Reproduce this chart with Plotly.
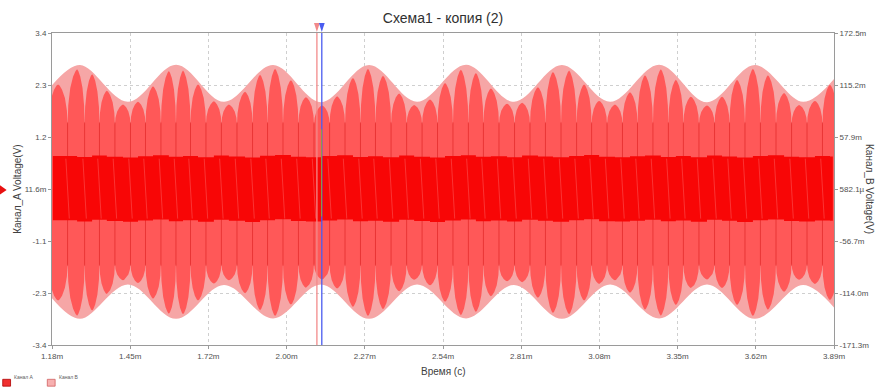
import plotly.graph_objects as go

# ---------------- data ----------------
# Time in milliseconds; Канал A in volts (left axis), Канал B in volts (right axis)

# Канал A envelope: extremes of the AM envelope
env_t = [1.180, 1.277, 1.443, 1.610, 1.776, 1.946, 2.112, 2.279, 2.445,
         2.615, 2.781, 2.947, 3.114, 3.284, 3.450, 3.616, 3.783, 3.890]
env_top = [2.26, 2.70, 1.90, 2.71, 1.90, 2.70, 1.89, 2.70, 1.90,
           2.71, 1.90, 2.70, 1.90, 2.71, 1.89, 2.70, 1.90, 2.40]
env_bot = [-2.38, -2.83, -2.08, -2.83, -2.09, -2.82, -2.08, -2.83, -2.08,
           -2.82, -2.09, -2.83, -2.08, -2.82, -2.08, -2.83, -2.09, -2.58]

# Канал A carrier lobes: lobe centres and their positive / negative peaks
lobe_t = [1.201, 1.267, 1.319, 1.370, 1.426, 1.478, 1.530, 1.585, 1.634, 1.686,
          1.741, 1.793, 1.849, 1.901, 1.953, 2.008, 2.060, 2.116, 2.168, 2.223,
          2.275, 2.327, 2.383, 2.435, 2.490, 2.542, 2.597, 2.649, 2.701, 2.757,
          2.809, 2.864, 2.916, 2.972, 3.024, 3.076, 3.131, 3.183, 3.235, 3.290,
          3.342, 3.394, 3.450, 3.502, 3.554, 3.609, 3.661, 3.717, 3.769, 3.824,
          3.876]
lobe_top = [2.28, 2.61, 2.50, 2.14, 1.84, 1.90, 2.24, 2.57, 2.58, 2.28,
            1.91, 1.84, 2.12, 2.49, 2.62, 2.37, 2.00, 1.82, 2.02, 2.42,
            2.62, 2.47, 2.08, 1.83, 1.95, 2.31, 2.60, 2.53, 2.19, 1.86,
            1.88, 2.22, 2.55, 2.58, 2.28, 1.92, 1.84, 2.11, 2.48, 2.61,
            2.38, 2.01, 1.82, 2.01, 2.38, 2.62, 2.48, 2.09, 1.83, 1.92,
            2.27]
lobe_bot = [-2.43, -2.76, -2.65, -2.29, -1.99, -2.05, -2.39, -2.72, -2.73, -2.43,
            -2.06, -1.99, -2.27, -2.64, -2.77, -2.52, -2.15, -1.97, -2.17, -2.57,
            -2.77, -2.62, -2.23, -1.98, -2.10, -2.46, -2.75, -2.68, -2.34, -2.01,
            -2.03, -2.37, -2.70, -2.73, -2.43, -2.07, -1.99, -2.26, -2.63, -2.76,
            -2.53, -2.16, -1.97, -2.16, -2.53, -2.77, -2.63, -2.24, -1.98, -2.07,
            -2.42]

# Канал B: upper / lower excursion per carrier lobe
chb_hi = [0.0371, 0.0358, 0.0376, 0.0362, 0.0354, 0.0367, 0.0379, 0.0360, 0.0370, 0.0356,
          0.0374, 0.0364, 0.0353, 0.0372, 0.0380, 0.0362, 0.0357, 0.0369, 0.0377, 0.0359,
          0.0366, 0.0355, 0.0375, 0.0362, 0.0352, 0.0369, 0.0378, 0.0360, 0.0367, 0.0357,
          0.0374, 0.0364, 0.0355, 0.0371, 0.0380, 0.0361, 0.0357, 0.0366, 0.0376, 0.0359,
          0.0369, 0.0355, 0.0374, 0.0364, 0.0353, 0.0371, 0.0378, 0.0362, 0.0357, 0.0369,
          0.0365]
chb_lo = [-0.0338, -0.0352, -0.0332, -0.0347, -0.0356, -0.0340, -0.0329, -0.0349, -0.0339, -0.0354,
          -0.0334, -0.0345, -0.0357, -0.0337, -0.0328, -0.0347, -0.0352, -0.0340, -0.0331, -0.0350,
          -0.0343, -0.0354, -0.0333, -0.0347, -0.0357, -0.0340, -0.0330, -0.0349, -0.0342, -0.0352,
          -0.0334, -0.0345, -0.0354, -0.0338, -0.0328, -0.0348, -0.0352, -0.0343, -0.0332, -0.0350,
          -0.0340, -0.0354, -0.0334, -0.0345, -0.0357, -0.0338, -0.0330, -0.0347, -0.0352, -0.0340,
          -0.0344]

# Axis tick labels
x_labels = ["1.18m", "1.45m", "1.72m", "2.00m", "2.27m", "2.54m",
            "2.81m", "3.08m", "3.35m", "3.62m", "3.89m"]
yl_labels = ["3.4", "2.3", "1.2", "11.6m", "-1.1", "-2.3", "-3.4"]
yr_labels = ["172.5m", "115.2m", "57.9m", "582.1µ", "-56.7m", "-114.0m", "-171.3m"]

# Cursor positions (ms)
cursor_t = [2.098, 2.115]

# ---------------- style ----------------
X_RANGE = [1.18, 3.89]
YL_RANGE = [-3.4, 3.4]
YR_RANGE = [-0.1713, 0.1725]
NECK_HI = 1.40      # depth of the light gaps between lobes (upper half)
NECK_LO = -1.62     # depth of the light gaps between lobes (lower half)
PINK = "#F6A6A6"
RED = "#FF5858"
DARK = "#F80606"
FONT = "Liberation Sans, Arial, sans-serif"
TXT = "#505050"

# lobe profile: (fraction of half-spacing from centre, fraction of height above neck)
PROFILE = [(0.93, 0.35), (0.72, 0.66), (0.42, 0.87), (0.16, 0.97), (0.0, 1.0)]


def even_ticks(rng, n):
    return [rng[1] - i * (rng[1] - rng[0]) / (n - 1) for i in range(n)]


def lobe_outline(ts, peaks, neck):
    """Boundary of the carrier lobes: tapered spikes joined at the neck level."""
    xs, ys = [], []
    n = len(ts)
    for i, (t, h) in enumerate(zip(ts, peaks)):
        left = (ts[i - 1] + t) / 2 if i > 0 else t - (ts[1] - ts[0]) / 2
        right = (t + ts[i + 1]) / 2 if i < n - 1 else t + (ts[-1] - ts[-2]) / 2
        if i == 0:
            xs.append(left); ys.append(neck)
        for dx, fy in PROFILE:
            xs.append(t - dx * (t - left)); ys.append(neck + fy * (h - neck))
        for dx, fy in PROFILE[-2::-1]:
            xs.append(t + dx * (right - t)); ys.append(neck + fy * (h - neck))
        xs.append(right); ys.append(neck)
    return xs, ys


fig = go.Figure()

# Канал A envelope (light)
fig.add_trace(go.Scatter(x=env_t, y=env_bot, mode="lines", line=dict(width=0, shape="spline"),
                         hoverinfo="skip", showlegend=False))
fig.add_trace(go.Scatter(x=env_t, y=env_top, mode="lines", line=dict(width=0, shape="spline"),
                         fill="tonexty", fillcolor=PINK, name="Канал А", showlegend=False))

# Канал A carrier lobes
ux, uy = lobe_outline(lobe_t, lobe_top, NECK_HI)
lx, ly = lobe_outline(lobe_t, lobe_bot, NECK_LO)
fig.add_trace(go.Scatter(x=ux + lx[::-1], y=uy + ly[::-1], mode="lines", line=dict(width=0),
                         fill="toself", fillcolor=RED, hoverinfo="skip", showlegend=False))

# thin trace strokes between lobes
gx, gy = [], []
for a, b in zip(lobe_t[:-1], lobe_t[1:]):
    m = (a + b) / 2
    gx += [m, m, None]
    gy += [NECK_HI + 0.05, NECK_LO - 0.05, None]
fig.add_trace(go.Scatter(x=gx, y=gy, mode="lines", line=dict(color="rgba(200,0,0,0.5)", width=0.8),
                         hoverinfo="skip", showlegend=False))

# Канал B band (right axis)
bx = [X_RANGE[0] + 0.003] + lobe_t + [X_RANGE[1] - 0.004]
fig.add_trace(go.Scatter(x=bx, y=[chb_lo[0]] + chb_lo + [chb_lo[-1]], yaxis="y2", mode="lines",
                         line=dict(width=0, shape="hv"), hoverinfo="skip", showlegend=False))
fig.add_trace(go.Scatter(x=bx, y=[chb_hi[0]] + chb_hi + [chb_hi[-1]], yaxis="y2", mode="lines",
                         line=dict(width=0, shape="hv"), fill="tonexty", fillcolor=DARK,
                         name="Канал В", showlegend=False))

# lighter streaks crossing the band
sx, sy = [], []
for a, b in zip(lobe_t[:-1], lobe_t[1:]):
    m = (a + b) / 2
    sx += [m - 0.006, m + 0.006, None]
    sy += [0.034, -0.032, None]
fig.add_trace(go.Scatter(x=sx, y=sy, yaxis="y2", mode="lines",
                         line=dict(color="rgba(255,120,120,0.5)", width=0.8),
                         hoverinfo="skip", showlegend=False))

# ---------------- cursors ----------------
shapes = []
for t, col in zip(cursor_t, ["#F28A8A", "#4A5CF0"]):
    shapes.append(dict(type="line", xref="x", yref="paper", x0=t, x1=t, y0=0, y1=1.0,
                       line=dict(color=col, width=1.3), layer="above"))
    w = 0.010
    shapes.append(dict(type="path", xref="x", yref="paper",
                       path=f"M {t - w},1.032 L {t + w},1.032 L {t},1.003 Z",
                       fillcolor=col, line=dict(width=0), layer="above"))
# faint marker trace near the second cursor
shapes.append(dict(type="line", xref="x", yref="y", x0=cursor_t[1] - 0.001, x1=cursor_t[1] - 0.001,
                   y0=1.3, y1=-0.6, line=dict(color="rgba(150,170,40,0.8)", width=1), layer="above"))
# channel A ground marker on the left edge
shapes.append(dict(type="path", xref="paper", yref="paper",
                   path="M -0.0665,0.512 L -0.058,0.497 L -0.0665,0.482 Z",
                   fillcolor="#E81010", line=dict(width=0)))
# legend swatches
shapes.append(dict(type="rect", xref="paper", yref="paper", x0=-0.063, x1=-0.053, y0=-0.132, y1=-0.11,
                   fillcolor="#F03030", line=dict(color="#B00000", width=0.8)))
shapes.append(dict(type="rect", xref="paper", yref="paper", x0=-0.006, x1=0.004, y0=-0.132, y1=-0.11,
                   fillcolor="#F7B0B0", line=dict(color="#D06060", width=0.8)))

annotations = [
    dict(text="Время (с)", xref="paper", yref="paper", x=0.5, y=-0.086, showarrow=False,
         font=dict(size=10, color="#404040", family=FONT), xanchor="center", yanchor="middle"),
    dict(text="Канал_A Voltage(V)", xref="paper", yref="paper", x=-0.045, y=0.50, showarrow=False,
         textangle=-90, font=dict(size=10, color="#404040", family=FONT),
         xanchor="center", yanchor="middle"),
    dict(text="Канал_B Voltage(V)", xref="paper", yref="paper", x=1.046, y=0.50, showarrow=False,
         textangle=90, font=dict(size=10, color="#404040", family=FONT),
         xanchor="center", yanchor="middle"),
    dict(text="Канал А", xref="paper", yref="paper", x=-0.051, y=-0.103, showarrow=False,
         font=dict(size=5, color="#606060", family=FONT), xanchor="left", yanchor="middle"),
    dict(text="Канал В", xref="paper", yref="paper", x=0.006, y=-0.103, showarrow=False,
         font=dict(size=5, color="#606060", family=FONT), xanchor="left", yanchor="middle"),
]

axis_common = dict(showline=True, linecolor="#9A9A9A", linewidth=1, ticks="outside", ticklen=3,
                   tickcolor="#9A9A9A", showgrid=True, gridcolor="#CFCFCF", griddash="dot",
                   gridwidth=1, zeroline=False, tickfont=dict(size=8, color=TXT, family=FONT))

xt = even_ticks(X_RANGE, len(x_labels))[::-1]
fig.update_layout(
    width=880, height=390,
    margin=dict(l=52, r=46, t=33, b=45),
    paper_bgcolor="white", plot_bgcolor="white",
    title=dict(text="Схема1 - копия (2)", x=0.5, xref="paper", xanchor="center",
               y=1 - 18 / 390, yanchor="middle", font=dict(size=14, color="#303030", family=FONT)),
    xaxis=dict(range=X_RANGE, tickvals=xt, ticktext=x_labels, mirror=True, **axis_common),
    yaxis=dict(range=YL_RANGE, tickvals=even_ticks(YL_RANGE, 7), ticktext=yl_labels, mirror=True,
               **axis_common),
    yaxis2=dict(range=YR_RANGE, tickvals=even_ticks(YR_RANGE, 7), ticktext=yr_labels,
                overlaying="y", side="right", **{**axis_common, "showgrid": False}),
    shapes=shapes, annotations=annotations, showlegend=False,
)

fig.write_html("out.html")
